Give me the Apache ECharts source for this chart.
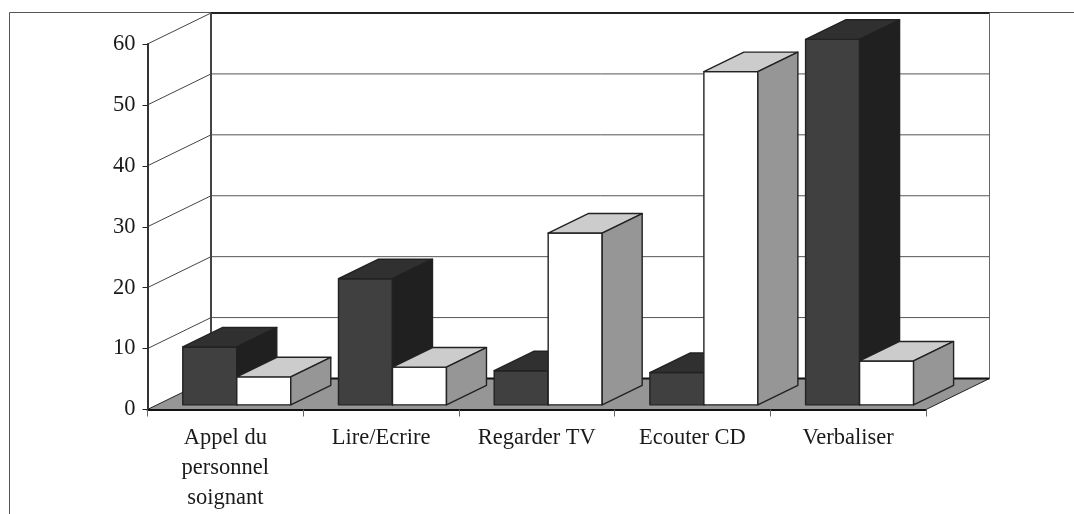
<!DOCTYPE html>
<html>
<head>
<meta charset="utf-8">
<style>
  html, body { margin: 0; padding: 0; background: #fff; }
  #main { width: 1074px; height: 514px; }
</style>
<script src="https://cdn.jsdelivr.net/npm/echarts@6/dist/echarts.min.js"></script>
</head>
<body>
<div id="main"></div>
<script>
var categories = ['Appel du\npersonnel\nsoignant', 'Lire/Ecrire', 'Regarder TV', 'Ecouter CD', 'Verbaliser'];
var darkValues = [9.5, 20.7, 5.6, 5.3, 60];
var whiteValues = [4.6, 6.2, 28.2, 54.7, 7.2];
var yTicks = [0, 10, 20, 30, 40, 50, 60];

// fake 3d: how far the back wall sits from the front plane, in px
var depthX = 63.5;
var depthY = 31;
var barShiftX = 0.18;  // where the bars start in the depth
var barShiftY = 0.15;
var barDepth = 0.63;
var barW = 54;

var font = '"Liberation Serif", serif';
var lineColor = '#222';

function poly(points, fill) {
  return {
    type: 'polygon',
    shape: { points: points },
    style: { fill: fill, stroke: lineColor, lineWidth: 1.4, lineJoin: 'round' }
  };
}

function seg(x1, y1, x2, y2, color, width) {
  return {
    type: 'line',
    shape: { x1: x1, y1: y1, x2: x2, y2: y2 },
    style: { stroke: color, lineWidth: width }
  };
}

function renderWall(params, api) {
  var v = api.value(0);
  var band = api.size([1, 0])[0];
  var left = api.coord([0, v]);
  var right = api.coord([categories.length - 1, v]);
  var x0 = left[0] - band / 2;
  var x1 = right[0] + band / 2;
  var y = left[1];
  var children = [];
  if (v === yTicks[0]) {
    // floor
    children.push({
      type: 'polygon',
      shape: { points: [[x0, y], [x0 + depthX, y - depthY], [x1 + depthX, y - depthY], [x1, y]] },
      style: { fill: '#969696', stroke: '#222', lineWidth: 1 }
    });
    children.push(seg(x0 + depthX, y - depthY, x1 + depthX, y - depthY, '#111', 2));
  } else {
    children.push(seg(x0, y, x0 + depthX, y - depthY, '#444', 1));
    if (v === yTicks[yTicks.length - 1]) {
      var yb = api.coord([0, 0])[1];
      children.push(seg(x0 + depthX, y - depthY, x1 + depthX, y - depthY, '#222', 2));
      children.push(seg(x0 + depthX, y - depthY, x0 + depthX, yb - depthY, '#444', 2));
      children.push(seg(x1 + depthX, y - depthY, x1 + depthX, yb - depthY, '#666', 1));
    } else {
      children.push(seg(x0 + depthX, y - depthY, x1 + depthX, y - depthY, '#555', 1));
    }
  }
  return { type: 'group', children: children };
}

// side: -1 draws the bar left of the category centre, 1 right of it
function barRenderer(side, front, top, right) {
  return function (params, api) {
    var i = api.value(0);
    var base = api.coord([i, 0]);
    var head = api.coord([i, api.value(1)]);
    var sx = depthX * barShiftX, sy = depthY * barShiftY;
    var dx = depthX * barDepth, dy = depthY * barDepth;
    var xc = base[0] + sx;
    var x0 = side < 0 ? xc - barW : xc;
    var x1 = x0 + barW;
    var yb = base[1] - sy;
    var yt = head[1] - sy;
    return {
      type: 'group',
      children: [
        poly([[x0, yb], [x1, yb], [x1, yt], [x0, yt]], front),
        poly([[x0, yt], [x1, yt], [x1 + dx, yt - dy], [x0 + dx, yt - dy]], top),
        poly([[x1, yb], [x1 + dx, yb - dy], [x1 + dx, yt - dy], [x1, yt]], right)
      ]
    };
  };
}

function pairs(values) {
  return values.map(function (v, i) { return [i, v]; });
}

var chart = echarts.init(document.getElementById('main'), null, { renderer: 'canvas' });
chart.setOption({
  animation: false,
  backgroundColor: '#fff',
  grid: { left: 147.5, right: 148, top: 44, bottom: 104.5 },
  xAxis: {
    type: 'category',
    data: categories,
    z: 5,
    axisLine: { lineStyle: { color: '#111', width: 2 } },
    axisTick: { show: true, length: 7, lineStyle: { color: '#666', width: 1 } },
    axisLabel: { interval: 0, margin: 14, color: '#1a1a1a', fontFamily: font, fontSize: 22.5, lineHeight: 30 }
  },
  yAxis: {
    type: 'value',
    min: 0,
    max: 60,
    interval: 10,
    z: 5,
    splitLine: { show: false },
    axisLine: { show: true, lineStyle: { color: '#333', width: 2 } },
    axisTick: { show: true, length: 5, lineStyle: { color: '#222', width: 1 } },
    axisLabel: { margin: 12, padding: [2, 0, 0, 0], color: '#1a1a1a', fontFamily: font, fontSize: 22.5 }
  },
  graphic: [
    { type: 'line', silent: true, shape: { x1: 9.5, y1: 12.5, x2: 1074, y2: 12.5 }, style: { stroke: '#555', lineWidth: 1 } },
    { type: 'line', silent: true, shape: { x1: 9.5, y1: 12.5, x2: 9.5, y2: 514 }, style: { stroke: '#555', lineWidth: 1 } }
  ],
  series: [
    { type: 'custom', renderItem: renderWall, data: yTicks.map(function (v) { return [v]; }), encode: { y: 0 }, silent: true },
    { type: 'custom', renderItem: barRenderer(-1, '#404040', '#303030', '#202020'), data: pairs(darkValues), encode: { x: 0, y: 1 } },
    { type: 'custom', renderItem: barRenderer(1, '#ffffff', '#cccccc', '#969696'), data: pairs(whiteValues), encode: { x: 0, y: 1 } }
  ]
});
</script>
</body>
</html>
